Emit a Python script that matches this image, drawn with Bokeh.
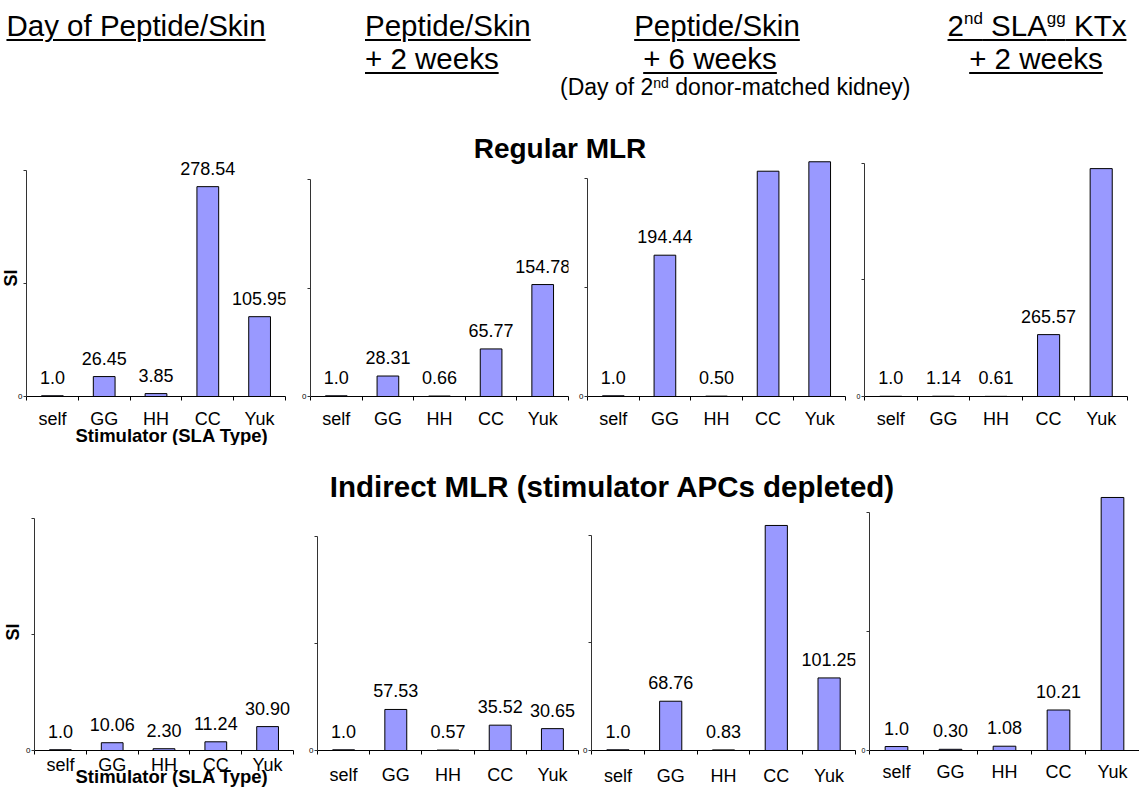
from bokeh.plotting import figure
from bokeh.models import ColumnDataSource, LabelSet, FixedTicker, Div, Range1d, Title
from bokeh.layouts import column, row
from bokeh.core.properties import value
from bokeh.embed import file_html
from bokeh.resources import INLINE

FONT = "Liberation Sans"
BAR_FILL = "#9999FF"

categories = ["self", "GG", "HH", "CC", "Yuk"]

# Regular MLR (SI)
reg_day0 = [1.0, 26.45, 3.85, 278.54, 105.95]
reg_wk2 = [1.0, 28.31, 0.66, 65.77, 154.78]
reg_wk6 = [1.0, 194.44, 0.50, 310.0, 323.0]
reg_ktx = [1.0, 1.14, 0.61, 265.57, 978.0]
reg_day0_lbl = ["1.0", "26.45", "3.85", "278.54", "105.95"]
reg_wk2_lbl = ["1.0", "28.31", "0.66", "65.77", "154.78"]
reg_wk6_lbl = ["1.0", "194.44", "0.50", "", ""]
reg_ktx_lbl = ["1.0", "1.14", "0.61", "265.57", ""]

# Indirect MLR (stimulator APCs depleted)
ind_day0 = [1.0, 10.06, 2.30, 11.24, 30.90]
ind_wk2 = [1.0, 57.53, 0.57, 35.52, 30.65]
ind_wk6 = [1.0, 68.76, 0.83, 314.0, 101.25]
ind_ktx = [1.0, 0.30, 1.08, 10.21, 63.8]
ind_day0_lbl = ["1.0", "10.06", "2.30", "11.24", "30.90"]
ind_wk2_lbl = ["1.0", "57.53", "0.57", "35.52", "30.65"]
ind_wk6_lbl = ["1.0", "68.76", "0.83", "", "101.25"]
ind_ktx_lbl = ["1.0", "0.30", "1.08", "10.21", ""]

# axis maxima of each panel (ticks at 0, half, max)
reg_axis_max = [300, 300, 300, 1000]
ind_axis_max = [300, 300, 300, 60]


def panel(vals, labels, axis_max, y_end, width, height, bl, br, bt, bb,
          label_standoff, zero_size="8px"):
    p = figure(width=width, height=height,
               x_range=Range1d(0, len(categories)), y_range=Range1d(0, y_end),
               output_backend="svg", toolbar_location=None,
               min_border_left=bl, min_border_right=br,
               min_border_top=bt, min_border_bottom=bb)
    p.background_fill_color = None
    p.border_fill_color = None
    p.outline_line_color = None
    p.xgrid.visible = False
    p.ygrid.visible = False

    xs = [i + 0.5 for i in range(len(categories))]
    src = ColumnDataSource(dict(x=xs, top=vals, label=labels))
    p.vbar(x="x", top="top", bottom=0, width=0.42, source=src,
           fill_color=BAR_FILL, line_color="black", line_width=1)
    p.add_layout(LabelSet(x="x", y="top", text="label", source=src,
                          text_align="center", text_baseline="alphabetic",
                          y_offset=12, text_font=value(FONT),
                          text_font_size=value("18px"), text_color="black"))

    xa = p.xaxis[0]
    xa.ticker = FixedTicker(ticks=xs, minor_ticks=list(range(len(categories) + 1)))
    xa.major_label_overrides = {x: c for x, c in zip(xs, categories)}
    xa.major_tick_line_color = None
    xa.major_tick_in = 0
    xa.major_tick_out = 0
    xa.minor_tick_in = 0
    xa.minor_tick_out = 4
    xa.minor_tick_line_color = "black"
    xa.axis_line_color = "black"
    xa.major_label_text_font = FONT
    xa.major_label_text_font_size = "18px"
    xa.major_label_text_color = "black"
    xa.major_label_standoff = label_standoff

    ya = p.yaxis[0]
    half = axis_max / 2
    ya.ticker = FixedTicker(ticks=[0, half, axis_max], minor_ticks=[])
    ya.major_label_overrides = {half: "", axis_max: ""}
    ya.bounds = (0, axis_max)
    ya.axis_line_color = "#333333"
    ya.major_tick_line_color = "#333333"
    ya.major_tick_in = 0
    ya.major_tick_out = 3
    ya.major_label_standoff = 1
    ya.major_label_text_font = FONT
    ya.major_label_text_font_size = zero_size
    ya.major_label_text_color = "black"
    return p


def add_titles(p, si_offset, si_standoff, st_offset, st_standoff):
    p.add_layout(Title(text="SI", align="left", offset=si_offset,
                       vertical_align="middle", standoff=si_standoff,
                       text_font=FONT, text_font_style="bold",
                       text_font_size="18px", text_color="black"), "left")
    p.add_layout(Title(text="Stimulator (SLA Type)", align="left", offset=st_offset,
                       vertical_align="top", standoff=st_standoff,
                       text_font=FONT, text_font_style="bold",
                       text_font_size="18.5px", text_color="black"), "below")


# ---- top row: Regular MLR   (frames 154..396)
t1 = panel(reg_day0, reg_day0_lbl, reg_axis_max[0], 321.2, 297, 292, 26, 12, 1, 49, 8)
t2 = panel(reg_wk2, reg_wk2_lbl, reg_axis_max[1], 334.6, 277, 292, 13, 6, 1, 49, 8)
t3 = panel(reg_wk6, reg_wk6_lbl, reg_axis_max[2], 333.0, 277, 292, 13, 6, 1, 49, 8)
t4 = panel(reg_ktx, reg_ktx_lbl, reg_axis_max[3], 1038.6, 288, 292, 13, 12, 1, 49, 8, "7px")
add_titles(t1, 110, -12, 49, -13)

# ---- bottom row: Indirect MLR   (frames 495..750)
b1 = panel(ind_day0, ind_day0_lbl, ind_axis_max[0], 329.7, 304, 295, 34, 11, 1, 39, 0)
b2 = panel(ind_wk2, ind_wk2_lbl, ind_axis_max[1], 357.5, 276, 295, 13, 2, 1, 39, 10)
b3 = panel(ind_wk6, ind_wk6_lbl, ind_axis_max[2], 355.8, 277, 295, 10, 2, 1, 39, 11)
b4 = panel(ind_ktx, ind_ktx_lbl, ind_axis_max[3], 64.3, 282, 295, 12, 0, 1, 39, 7, "7px")
add_titles(b1, 110, -1, 41, -23)

U = "text-decoration:underline;text-decoration-thickness:2px;text-underline-offset:3px;"
BIG = "font-size:29.5px;line-height:28px;white-space:nowrap;position:absolute;"


def box(center, top, inner, style):
    return (f'<div style="{style}left:{center - 200}px;top:{top}px;width:400px;'
            f'text-align:center;">{inner}</div>')


sup_big = '<sup style="font-size:17px;line-height:0;vertical-align:12px;">'
sup_small = '<sup style="font-size:14px;line-height:0;vertical-align:7px;">'

header_html = (
    f'<div style="position:relative;width:1139px;height:153px;font-family:\'{FONT}\';color:#000;">'
    + box(136, 12, f'<span style="{U}">Day of Peptide/Skin</span>', BIG)
    + f'<div style="{BIG}left:365px;top:12px;"><span style="{U}">Peptide/Skin</span></div>'
    + f'<div style="{BIG}left:365px;top:45px;"><span style="{U}">+ 2 weeks</span></div>'
    + box(717, 12, f'<span style="{U}">Peptide/Skin</span>', BIG)
    + box(710, 45, f'<span style="{U}">+ 6 weeks</span>', BIG)
    + f'<div style="position:absolute;left:560px;top:76px;font-size:23px;line-height:22px;white-space:nowrap;">'
      f'(Day of 2{sup_small}nd</sup> donor-matched kidney)</div>'
    + box(1037, 12, f'<span style="{U}">2{sup_big}nd</sup> SLA{sup_big}gg</sup> KTx</span>', BIG)
    + box(1036, 45, f'<span style="{U}">+ 2 weeks</span>', BIG)
    + box(560, 133, '<b>Regular MLR</b>',
          "font-size:28px;line-height:32px;white-space:nowrap;position:absolute;")
    + '</div>'
)
header = Div(text=header_html, width=1139, height=153, margin=0,
             styles={"overflow": "visible"})

mid_html = (
    f'<div style="position:relative;width:1139px;height:49px;font-family:\'{FONT}\';color:#000;">'
    + f'<div style="position:absolute;left:{612 - 350}px;top:25px;width:700px;text-align:center;'
      f'font-size:29.5px;line-height:34px;white-space:nowrap;"><b>Indirect MLR (stimulator APCs depleted)</b></div>'
    + '</div>'
)
mid = Div(text=mid_html, width=1139, height=49, margin=0, styles={"overflow": "visible"})

top_row = row(t1, t2, t3, t4, spacing=0)
bot_row = row(b1, b2, b3, b4, spacing=0)
p = column(header, top_row, mid, bot_row, spacing=0)

open("out.html", "w").write(file_html(p, INLINE))
